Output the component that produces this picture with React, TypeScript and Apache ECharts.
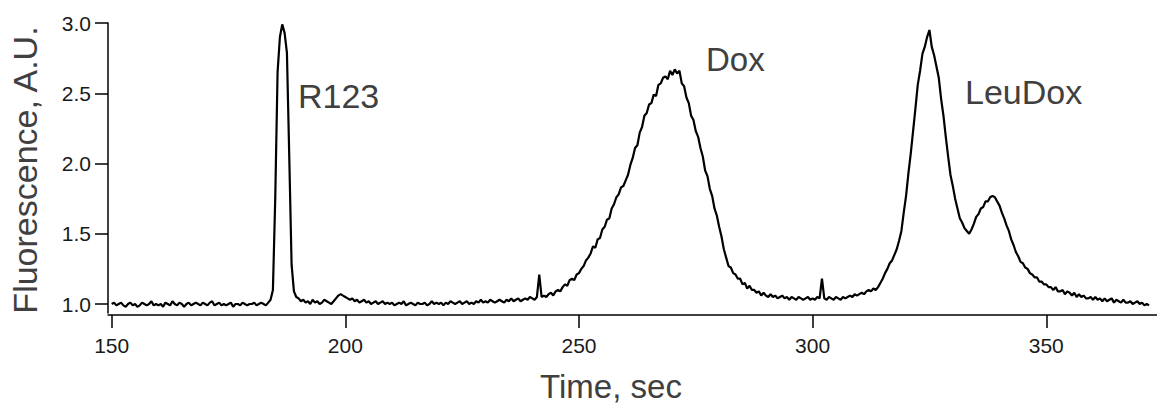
import React, { useEffect, useRef } from "react";
import * as echarts from "echarts";

// Sampling grid of the trace (seconds)
const T_START = 150;
const T_STEP = 0.5;

// Fluorescence (A.U.), 10-second blocks, 0.5 s apart
const seg150 = [1.00,1.01,0.99,1.00,1.01,0.99,0.98,1.00,1.01,0.99, 1.00,0.98,0.99,1.01,1.00,0.99,1.00,1.02,0.99,1.00];
const seg160 = [0.99,1.00,0.98,1.01,1.00,0.99,1.02,1.00,0.99,1.01, 1.00,0.98,1.00,1.01,0.99,1.00,1.01,1.00,0.99,1.01];
const seg170 = [1.00,0.99,1.01,1.02,0.99,1.00,1.01,0.99,1.00,0.99, 1.00,1.01,0.98,1.00,1.00,0.99,1.01,1.00,0.99,1.00];
const seg180 = [1.00,1.01,0.99,1.00,1.01,1.00,0.99,1.01,1.03,1.10, 1.75,2.65,2.90,2.99,2.93,2.79,2.05,1.28,1.09,1.05];
const seg190 = [1.04,1.02,1.03,1.01,1.02,1.00,1.03,1.01,1.02,1.00, 1.01,1.03,1.02,1.01,1.00,1.02,1.04,1.06,1.07,1.06];
const seg200 = [1.05,1.04,1.03,1.04,1.02,1.03,1.01,1.02,1.03,1.01, 1.02,1.00,1.01,1.02,1.00,1.01,1.02,1.00,1.01,1.00];
const seg210 = [1.01,0.99,1.00,1.01,1.00,1.02,0.99,1.00,1.01,1.00, 0.99,1.01,1.00,1.00,1.01,0.99,1.00,1.02,1.00,1.01];
const seg220 = [1.00,1.01,0.99,1.01,1.00,1.02,1.01,1.00,1.01,1.02, 1.00,1.01,1.02,1.00,1.01,1.00,1.02,1.01,1.03,1.01];
const seg230 = [1.02,1.01,1.03,1.02,1.01,1.02,1.03,1.02,1.01,1.03, 1.02,1.04,1.02,1.03,1.04,1.02,1.03,1.04,1.03,1.05];
const seg240 = [1.04,1.03,1.05,1.21,1.05,1.06,1.05,1.07,1.08,1.06, 1.09,1.10,1.09,1.12,1.14,1.13,1.17,1.18,1.17,1.21];
const seg250 = [1.22,1.25,1.27,1.31,1.33,1.36,1.41,1.40,1.46,1.47, 1.53,1.55,1.60,1.61,1.68,1.71,1.76,1.78,1.83,1.84];
const seg260 = [1.88,1.92,1.99,2.04,2.11,2.13,2.22,2.26,2.34,2.36, 2.42,2.43,2.49,2.48,2.56,2.57,2.61,2.62,2.60,2.66];
const seg270 = [2.63,2.67,2.64,2.66,2.57,2.55,2.47,2.43,2.34,2.31, 2.23,2.19,2.11,2.05,1.95,1.91,1.82,1.77,1.68,1.63];
const seg280 = [1.55,1.48,1.39,1.33,1.27,1.26,1.22,1.21,1.18,1.18, 1.14,1.15,1.11,1.13,1.10,1.10,1.08,1.09,1.06,1.08];
const seg290 = [1.06,1.05,1.07,1.05,1.06,1.04,1.05,1.06,1.04,1.05, 1.03,1.05,1.04,1.03,1.05,1.04,1.03,1.04,1.05,1.03];
const seg300 = [1.04,1.03,1.05,1.04,1.18,1.04,1.03,1.05,1.04,1.03, 1.05,1.04,1.03,1.05,1.04,1.05,1.06,1.05,1.07,1.06];
const seg310 = [1.07,1.08,1.07,1.09,1.10,1.09,1.11,1.10,1.12,1.15, 1.18,1.22,1.25,1.29,1.31,1.35,1.39,1.45,1.52,1.65];
const seg320 = [1.77,1.93,2.07,2.23,2.39,2.56,2.66,2.78,2.83,2.90, 2.95,2.83,2.77,2.69,2.61,2.46,2.34,2.19,2.05,1.92];
const seg330 = [1.84,1.75,1.68,1.61,1.58,1.54,1.52,1.50,1.53,1.57, 1.62,1.64,1.68,1.69,1.73,1.73,1.76,1.77,1.76,1.73];
const seg340 = [1.70,1.65,1.61,1.56,1.52,1.46,1.42,1.37,1.34,1.30, 1.29,1.26,1.25,1.22,1.21,1.19,1.19,1.16,1.16,1.14];
const seg350 = [1.14,1.12,1.12,1.10,1.12,1.09,1.09,1.10,1.07,1.09, 1.08,1.06,1.08,1.05,1.07,1.05,1.06,1.04,1.04,1.05];
const seg360 = [1.03,1.05,1.03,1.04,1.02,1.04,1.02,1.03,1.04,1.01, 1.03,1.02,1.01,1.03,1.01,1.01,1.02,1.00,1.01,1.02];
const seg370 = [1.00,1.01,0.99,1.00,0.99];

const xTicks = [150, 200, 250, 300, 350];
const yTicks = [1.0, 1.5, 2.0, 2.5, 3.0];

const peakLabels = ["R123", "Dox", "LeuDox"];

const FONT = "'Liberation Sans', Arial, Helvetica, sans-serif";

export default function App() {
  const ref = useRef<HTMLDivElement>(null);

  useEffect(() => {
    document.body.style.margin = "0";
    if (!ref.current) return;
    const chart = echarts.init(ref.current, undefined, { renderer: "svg" });

    const values = [
      ...seg150, ...seg160, ...seg170, ...seg180, ...seg190, ...seg200,
      ...seg210, ...seg220, ...seg230, ...seg240, ...seg250, ...seg260,
      ...seg270, ...seg280, ...seg290, ...seg300, ...seg310, ...seg320,
      ...seg330, ...seg340, ...seg350, ...seg360, ...seg370,
    ];
    const data = values.map((v, i) => [T_START + i * T_STEP, v]);

    const labelColor = "#404040";

    chart.setOption({
      animation: false,
      backgroundColor: "#ffffff",
      grid: { left: 108, top: 23, right: 0, bottom: 91, containLabel: false },
      xAxis: {
        type: "value",
        min: 149.21,
        max: 373.7,
        offset: 2,
        splitLine: { show: false },
        axisLine: { show: true, lineStyle: { color: "#000", width: 1.5 } },
        axisTick: {
          show: true,
          inside: false,
          length: 13,
          customValues: xTicks,
          lineStyle: { color: "#000", width: 1.5 },
        },
        axisLabel: {
          customValues: xTicks,
          margin: 20,
          fontSize: 21,
          fontFamily: FONT,
          color: "#1a1a1a",
          formatter: (v: number) => String(Math.round(v)),
        },
      },
      yAxis: {
        type: "value",
        min: 0.936,
        max: 3.0,
        splitLine: { show: false },
        axisLine: { show: true, lineStyle: { color: "#000", width: 1.5 } },
        axisTick: {
          show: true,
          inside: false,
          length: 13,
          customValues: yTicks,
          lineStyle: { color: "#000", width: 1.5 },
        },
        axisLabel: {
          customValues: yTicks,
          margin: 17,
          fontSize: 21,
          fontFamily: FONT,
          color: "#1a1a1a",
          formatter: (v: number) => v.toFixed(1),
        },
      },
      series: [
        {
          type: "line",
          data,
          showSymbol: false,
          symbol: "none",
          lineStyle: { color: "#000", width: 2.2 },
          clip: true,
        },
      ],
      graphic: [
        {
          type: "text",
          x: 25,
          y: 170,
          rotation: Math.PI / 2,
          style: {
            text: "Fluorescence, A.U.",
            fontSize: 34,
            fontFamily: FONT,
            fill: labelColor,
            align: "center",
            verticalAlign: "middle",
          },
        },
        {
          type: "text",
          x: 611,
          y: 386,
          style: {
            text: "Time, sec",
            fontSize: 33,
            fontFamily: FONT,
            fill: labelColor,
            align: "center",
            verticalAlign: "middle",
          },
        },
        {
          type: "text",
          x: 298,
          y: 96,
          style: {
            text: peakLabels[0],
            fontSize: 34,
            fontFamily: FONT,
            fill: labelColor,
            align: "left",
            verticalAlign: "middle",
          },
        },
        {
          type: "text",
          x: 706,
          y: 59,
          style: {
            text: peakLabels[1],
            fontSize: 33,
            fontFamily: FONT,
            fill: labelColor,
            align: "left",
            verticalAlign: "middle",
          },
        },
        {
          type: "text",
          x: 965,
          y: 92,
          style: {
            text: peakLabels[2],
            fontSize: 34,
            fontFamily: FONT,
            fill: labelColor,
            align: "left",
            verticalAlign: "middle",
          },
        },
      ],
    });

    return () => {
      chart.dispose();
    };
  }, []);

  return (
    <div
      ref={ref}
      style={{ position: "absolute", left: 0, top: 0, width: 1157, height: 404 }}
    />
  );
}
